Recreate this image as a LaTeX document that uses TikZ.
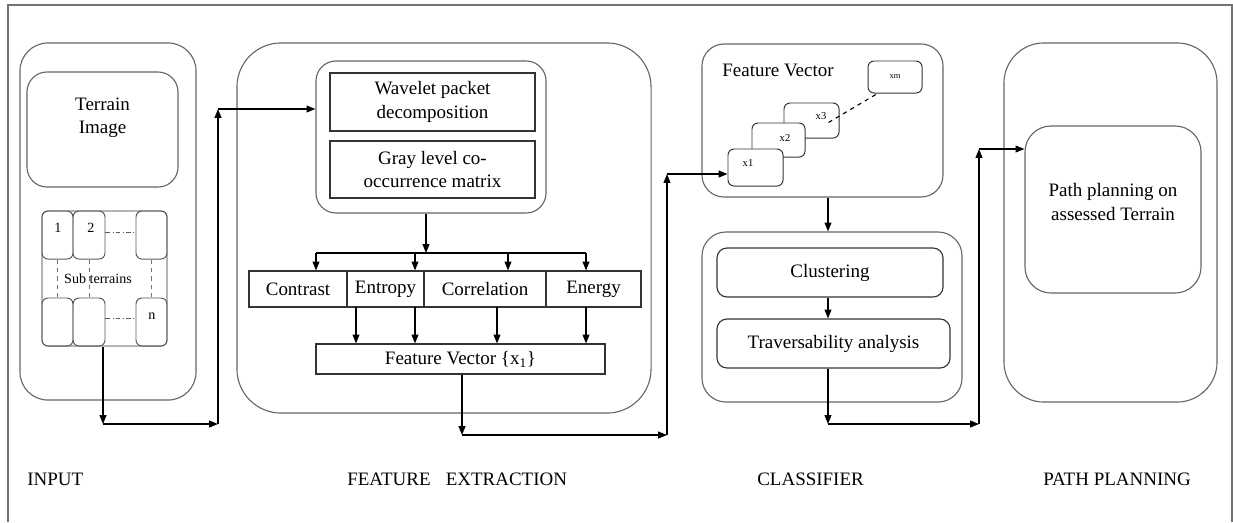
\documentclass[tikz,border=0pt]{standalone}
\usepackage{fontspec}
\setmainfont{Liberation Serif}
\usetikzlibrary{arrows.meta, calc}

\begin{document}
\begin{tikzpicture}[
    x=0.025cm, y=-0.025cm,
    every node/.style={font=\fontsize{13.5}{16.5}\selectfont},
    panel/.style={draw=black!60, line width=0.8pt, rounded corners=#1, inner sep=0pt},
    panel/.default=5mm,
    box/.style={draw=black!80, line width=0.8pt, inner sep=0pt, align=center},
    subcell/.style={draw=black!65, line width=0.7pt, rounded corners=1.5mm, minimum width=0.775cm, minimum height=1.2cm},
    vecbox/.style={draw=black!80, line width=0.7pt, rounded corners=1.5mm, fill=white, inner sep=0pt},
    numtext/.style={font=\fontsize{10}{12}\selectfont, inner sep=0pt},
    vecnum/.style={font=\fontsize{7.5}{9}\selectfont, inner sep=0pt},
    arr/.style={-{Triangle[length=2.2mm, width=1.7mm]}, line width=0.9pt},
    caption/.style={anchor=base west, inner sep=0pt}
]
\useasboundingbox (0,0) rectangle (1233,522);

\draw[black!55, line width=1.2pt] (8,522) -- (8,5) -- (1232,5) -- (1232,522);

% input
\node[panel=7mm, minimum width=4.4cm, minimum height=8.925cm] (input) at (108,221.5) {};
\node[panel=5mm, minimum width=3.775cm, minimum height=2.875cm] (image) at (102.5,129.5) {};
\node[align=center] (imagetxt) at (102.5,118) {Terrain\\Image};
\node[panel=1.5mm, draw=black!45, minimum width=3.125cm, minimum height=3.375cm] (grid) at (104.5,278.5) {};

\node[subcell] (c1) at (57.5,235) {};
\node[subcell, minimum width=0.8cm] (c2) at (89,235) {};
\node[subcell] (c3) at (151.5,235) {};
\node[subcell] (c4) at (57.5,322) {};
\node[subcell, minimum width=0.8cm] (c5) at (89,322) {};
\node[subcell] (c6) at (151.5,322) {};

\node[numtext] (n1) at (58,228) {1};
\node[numtext] (n2) at (91,228) {2};
\node[numtext] (nn) at (152,316) {n};
\node[numtext] (subt) at (98,279) {Sub terrains};

\draw[dash dot, black!65] ($(c2.east)+(0,-3)$) -- ($(c3.west)+(0,-3)$);
\draw[dash dot, black!65] ($(c5.east)+(0,-4)$) -- ($(c6.west)+(0,-4)$);
\foreach \a/\b in {c1/c4, c2/c5, c3/c6}
    \draw[dashed, black!55] (\a.south) -- (\b.north);

\coordinate (in1) at (103,424);
\coordinate (in2) at (218,424);
\coordinate (in3) at (218,109);
\draw[arr] (c5.south east -| in1) -- (in1);
\draw[arr] (in1) -- (in2);
\draw[arr] (in2) -- (in3);

% feature extraction
\node[panel=11mm, minimum width=10.35cm, minimum height=9.25cm] (extract) at (444,228) {};
\node[panel=5mm, minimum width=5.75cm, minimum height=3.8cm] (group) at (431,137) {};
\node[box, minimum width=5.125cm, minimum height=1.45cm] (wavelet) at (432.5,102) {Wavelet packet\\decomposition};
\node[box, minimum width=5.125cm, minimum height=1.425cm] (glcm) at (432.5,169.5) {Gray level co-\\occurrence matrix};
\draw[arr] (in3) -- (in3 -| group.west);

\node[box, minimum width=2.45cm, minimum height=0.9cm] (contrast) at (298,289) {Contrast};
\node[box, minimum width=1.925cm, minimum height=0.9cm] (entropy) at (385.5,289) {Entropy};
\node[box, minimum width=3.05cm, minimum height=0.9cm] (correl) at (485,289) {Correlation};
\node[box, minimum width=2.375cm, minimum height=0.9cm] (energy) at (593.5,289) {Energy};
\node[box, minimum width=7.225cm, minimum height=0.75cm] (fv) at (460.5,359) {Feature Vector \{x\textsubscript{1}\}};

\coordinate (bus) at (426,253);
\draw[arr] (group.south -| bus) -- (bus);
\coordinate (t1) at (316,253);
\coordinate (t2) at (415,253);
\coordinate (t3) at (508,253);
\coordinate (t4) at (586,253);
\draw[line width=0.9pt] (t1) -- (t4);
\draw[arr] (t1) -- (t1 |- contrast.north);
\draw[arr] (t2) -- (t2 |- entropy.north);
\draw[arr] (t3) -- (t3 |- correl.north);
\draw[arr] (t4) -- (t4 |- energy.north);

\coordinate (d1) at (356,307);
\coordinate (d2) at (415,307);
\coordinate (d3) at (497,307);
\coordinate (d4) at (586,307);
\foreach \d in {d1,d2,d3,d4}
    \draw[arr] (\d) -- (\d |- fv.north);

% classifier
\node[panel=5.5mm, minimum width=6.025cm, minimum height=3.825cm] (vecpanel) at (822.5,120.5) {};
\node (vectitle) at (778,70) {Feature Vector};
\node[vecbox, minimum width=1.35cm, minimum height=0.8cm] (xm) at (895,77) {};
\node[vecbox, minimum width=1.375cm, minimum height=0.875cm] (x3) at (811.5,120.5) {};
\node[vecbox, minimum width=1.325cm, minimum height=0.85cm] (x2) at (778.5,140) {};
\node[vecbox, minimum width=1.375cm, minimum height=0.925cm] (x1) at (755.5,167.5) {};
\node[vecnum, font=\fontsize{6}{7}\selectfont] (xmtxt) at (895,77) {xm};
\node[vecnum] (x3txt) at (821,116) {x3};
\node[vecnum] (x2txt) at (785,138) {x2};
\node[vecnum] (x1txt) at (748,163) {x1};
\draw[dashed, line width=0.8pt] ($(x3.east)+(-11,2)$) -- ($(xm.south west)+(10,0)$);

\coordinate (fe1) at (462,435);
\coordinate (fe2) at (667,435);
\coordinate (fe3) at (667,174);
\draw[arr] (fv.south -| fe1) -- (fe1);
\draw[arr] (fe1) -- (fe2);
\draw[arr] (fe2) -- (fe3);
\draw[arr] (fe3) -- (fe3 -| x1.west);

\node[panel=6mm, minimum width=6.5cm, minimum height=4.25cm] (classify) at (832,317) {};
\node[box, rounded corners=2.5mm, minimum width=5.65cm, minimum height=1.225cm] (cluster) at (830,272.5) {Clustering};
\node[box, rounded corners=2.5mm, minimum width=5.825cm, minimum height=1.225cm] (trav) at (833.5,343.5) {Traversability analysis};

\coordinate (cl1) at (828,424);
\coordinate (cl2) at (979,424);
\coordinate (cl3) at (979,149);
\draw[arr] (vecpanel.south -| cl1) -- (classify.north -| cl1);
\draw[arr] (cluster.south -| cl1) -- (trav.north -| cl1);
\draw[arr] (trav.south -| cl1) -- (cl1);
\draw[arr] (cl1) -- (cl2);
\draw[arr] (cl2) -- (cl3);

% path planning
\node[panel=10mm, minimum width=5.325cm, minimum height=8.975cm] (pathpanel) at (1110.5,222.5) {};
\node[panel=6.5mm, minimum width=4.4cm, minimum height=4.175cm] (plan) at (1113,209.5) {};
\node[align=center] (plantxt) at (1113,202) {Path planning on\\assessed Terrain};
\draw[arr] (cl3) -- (cl3 -| plan.west);

\node[caption] (capin) at (27,485) {INPUT};
\node[caption] (capfe) at (347,485) {FEATURE\hspace{0.8em}EXTRACTION};
\node[caption] (capcl) at (757,485) {CLASSIFIER};
\node[caption] (cappp) at (1043,485) {PATH PLANNING};

\end{tikzpicture}
\end{document}
